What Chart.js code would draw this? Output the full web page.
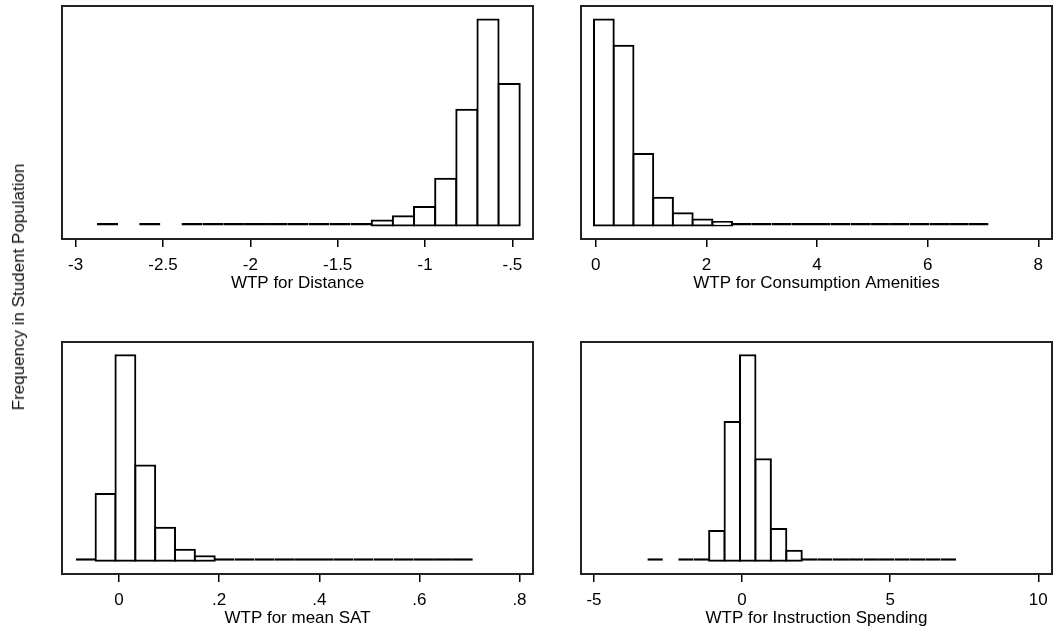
<!DOCTYPE html>
<html>
<head>
<meta charset="utf-8">
<script src="https://cdn.jsdelivr.net/npm/chart.js@4"></script>
<style>
  html, body { margin: 0; background: #fff; overflow: hidden; }
  #wrap { position: relative; width: 1053px; height: 633px; }
  #wrap canvas { position: absolute; }
  #ylab {
    position: absolute; left: 19px; top: 287px;
    transform: translate(-50%, -50%) rotate(-90deg);
    white-space: nowrap; color: #111;
    font: 17px 'Liberation Sans', Arial, sans-serif;
  }
</style>
</head>
<body>
<div id="wrap">
  <canvas id="distChart" width="504" height="288" style="left:31px;top:4px"></canvas>
  <canvas id="amenChart" width="530" height="288" style="left:524px;top:4px"></canvas>
  <canvas id="satChart" width="508" height="287" style="left:27px;top:340px"></canvas>
  <canvas id="spendChart" width="524" height="287" style="left:530px;top:340px"></canvas>
  <div id="ylab">Frequency in Student Population</div>
</div>
<script>
// share of students per bin; null = empty bin
const distStart = -2.878, distWidth = 0.121;
const distFreq = [0.0005, null, 0.0005, null, 0.0007, 0.0007, 0.0007, 0.0007, 0.0007, 0.0009,
                  0.0018, 0.0024, 0.0043, 0.0091, 0.0170, 0.0339, 0.0851, 0.2101, 0.3739, 0.2567];
const distTicks = [-3, -2.5, -2, -1.5, -1, -0.5];
const distLabels = ['-3', '-2.5', '-2', '-1.5', '-1', '-.5'];

const amenStart = -0.031, amenWidth = 0.3566;
const amenFreq = [0.401, 0.350, 0.139, 0.054, 0.024, 0.0117, 0.0072, 0.0039, 0.0008, 0.0006,
                  0.0005, 0.0004, 0.0004, 0.0003, 0.0003, 0.0003, 0.0002, 0.0002, 0.0002, 0.0002];
const amenTicks = [0, 2, 4, 6, 8];
const amenLabels = ['0', '2', '4', '6', '8'];

const satStart = -0.0865, satWidth = 0.03966;
const satFreq = [0.0006, 0.158, 0.487, 0.226, 0.078, 0.026, 0.0102, 0.0048, 0.0007, 0.0006,
                 0.0005, 0.0004, 0.0004, 0.0003, 0.0003, 0.0003, 0.0002, 0.0002, 0.0002, 0.0002];
const satTicks = [0, 0.2, 0.4, 0.6, 0.8];
const satLabels = ['0', '.2', '.4', '.6', '.8'];

const spendStart = -3.197, spendWidth = 0.5211;
const spendFreq = [0.0006, null, 0.0006, 0.0044, 0.0565, 0.264, 0.391, 0.193, 0.0603, 0.019,
                   0.0044, 0.0019, 0.0006, 0.0005, 0.0005, 0.0004, 0.0004, 0.0003, 0.0003, 0.0003];
const spendTicks = [-5, 0, 5, 10];
const spendLabels = ['-5', '0', '5', '10'];

const FONT = "'Liberation Sans', Arial, sans-serif";
Chart.defaults.color = '#000';
Chart.defaults.font.family = FONT;

// box around the plot region
const frame = {
  id: 'frame',
  afterDraw(chart) {
    const a = chart.chartArea, ctx = chart.ctx;
    ctx.save();
    ctx.strokeStyle = '#222';
    ctx.lineWidth = 2;
    ctx.strokeRect(a.left, a.top, a.right - a.left, a.bottom - a.top);
    ctx.restore();
  }
};

// padLeft leaves room on the left like the graph region of each panel,
// so the caption sits centred on the whole panel, not on the plot box
function histogram(id, start, width, freq, xMin, xMax, ticks, labels, title, padLeft) {
  const points = freq.map((f, i) => ({ x: start + (i + 0.5) * width, y: f }));
  const peak = Math.max(...freq.filter(f => f !== null));
  new Chart(document.getElementById(id), {
    type: 'bar',
    data: {
      datasets: [{
        data: points,
        backgroundColor: '#fff',
        borderColor: '#000',
        borderWidth: 2,
        borderSkipped: false,
        inflateAmount: ctx => (ctx.raw && ctx.raw.y < peak * 0.015 ? 0 : 1),
        minBarLength: 2.5,
        barPercentage: 1,
        categoryPercentage: 1
      }]
    },
    options: {
      responsive: false,
      animation: false,
      devicePixelRatio: 1,
      layout: { padding: { left: padLeft, right: 2, top: 2, bottom: 0.5 } },
      plugins: {
        legend: { display: false },
        tooltip: { enabled: false },
        title: {
          display: true,
          text: title,
          position: 'bottom',
          color: '#000',
          font: { size: 17, weight: 'normal', lineHeight: 1 },
          padding: 0
        }
      },
      scales: {
        x: {
          type: 'linear',
          min: xMin,
          max: xMax,
          offset: false,
          afterBuildTicks: axis => { axis.ticks = ticks.map(v => ({ value: v })); },
          afterFit: axis => {
            axis.height = 35.5;
            // edge labels fit inside the panel; keep the plot box full width
            axis.paddingLeft = 0;
            axis.paddingRight = 0;
          },
          ticks: {
            autoSkip: false,
            maxRotation: 0,
            padding: 10,
            font: { size: 17, lineHeight: 1 },
            callback: (v, i) => labels[i]
          },
          grid: { offset: false, drawOnChartArea: false, tickLength: 8, color: '#000', lineWidth: 1.5 },
          border: { display: false }
        },
        y: {
          display: false,
          beginAtZero: false,
          min: -0.065 * peak,
          max: 1.065 * peak
        }
      }
    },
    plugins: [frame]
  });
}

histogram('distChart', distStart, distWidth, distFreq, -3.078, -0.382, distTicks, distLabels, 'WTP for Distance', 31);
histogram('amenChart', amenStart, amenWidth, amenFreq, -0.266, 8.248, amenTicks, amenLabels, 'WTP for Consumption Amenities', 57);
histogram('satChart', satStart, satWidth, satFreq, -0.114, 0.827, satTicks, satLabels, 'WTP for mean SAT', 35);
histogram('spendChart', spendStart, spendWidth, spendFreq, -5.439, 10.463, spendTicks, spendLabels, 'WTP for Instruction Spending', 51);
</script>
</body>
</html>
